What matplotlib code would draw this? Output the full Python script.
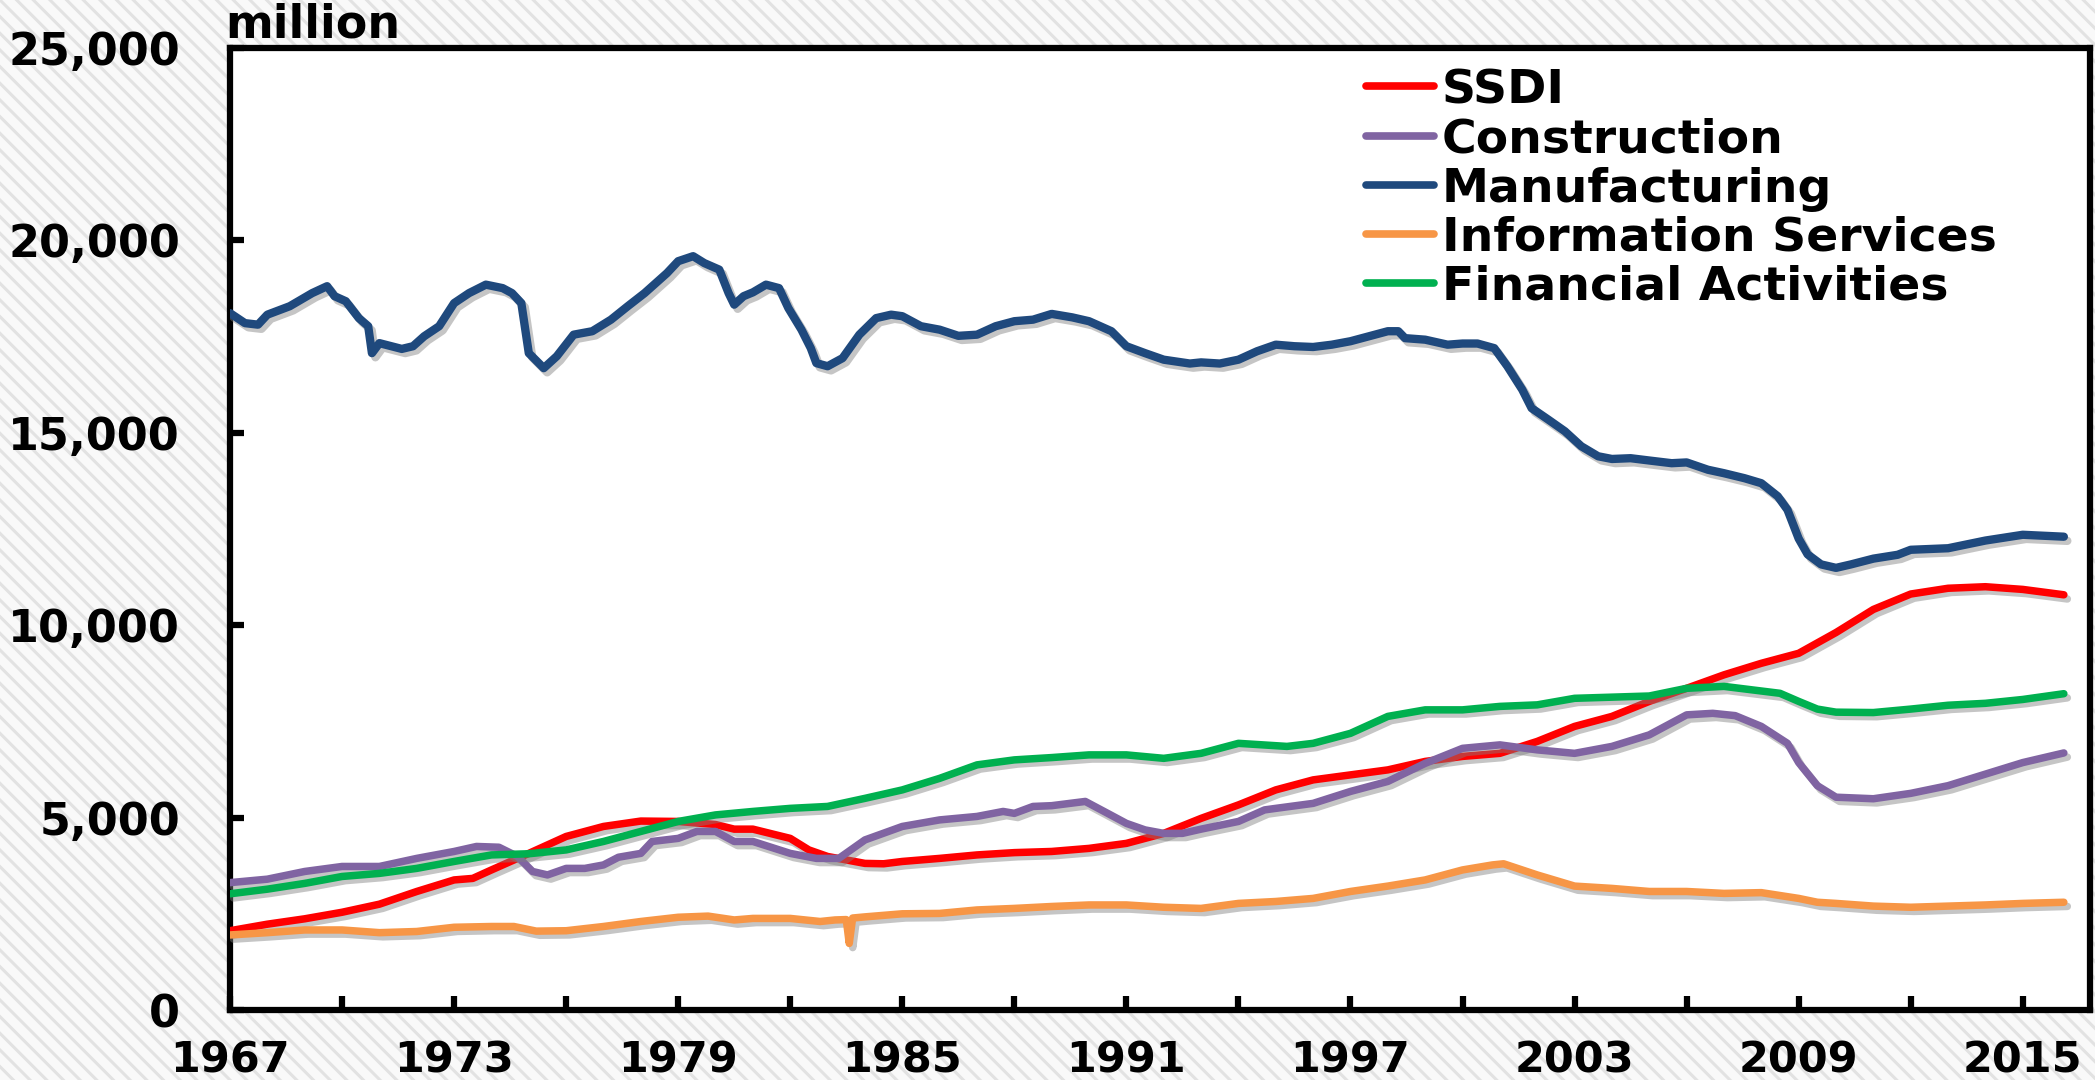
import matplotlib
matplotlib.use("Agg")
import matplotlib.pyplot as plt
import matplotlib.patheffects as pe
from matplotlib.patches import Rectangle
from matplotlib.lines import Line2D
from matplotlib.ticker import FuncFormatter, FixedLocator

plt.rcParams['font.family'] = ['DejaVu Sans']
plt.rcParams['font.weight'] = 'bold'
plt.rcParams['hatch.linewidth'] = 2.2

# ---------------- data ----------------
ssdi_years = [1967, 1968, 1969, 1970, 1971, 1972, 1973, 1973.5, 1974, 1975, 1976, 1977, 1978,
              1979, 1980, 1980.5, 1981, 1982, 1982.5, 1983, 1984, 1984.5, 1985, 1986, 1987, 1988,
              1989, 1990, 1991, 1992, 1993, 1994, 1995, 1996, 1997, 1998, 1999, 2000, 2001,
              2002, 2003, 2004, 2005, 2006, 2007, 2008, 2009, 2010, 2011, 2012, 2013, 2014,
              2015, 2016.1]
ssdi_vals = [2060, 2230, 2370, 2540, 2750, 3080, 3380, 3420, 3640, 4070, 4510, 4770, 4910,
             4900, 4820, 4700, 4700, 4460, 4160, 3990, 3810, 3800, 3860, 3940, 4030, 4090,
             4120, 4200, 4330, 4590, 4980, 5330, 5720, 5980, 6110, 6240, 6460, 6590, 6670,
             6980, 7370, 7630, 8020, 8360, 8710, 9010, 9270, 9810, 10410, 10810, 10960, 11000,
             10930, 10790]

constr_years = [1967, 1968, 1969, 1970, 1971, 1972, 1973, 1973.6, 1974.2, 1974.7, 1975.1,
                1975.5, 1976, 1976.5, 1977, 1977.4, 1978, 1978.3, 1979, 1979.5, 1980, 1980.5,
                1981, 1982, 1982.7, 1983.3, 1984, 1985, 1986, 1987, 1987.7, 1988, 1988.5, 1989,
                1989.9, 1990.5, 1991, 1991.5, 1992, 1992.5, 1993, 1994, 1994.7, 1995, 1996,
                1997, 1998, 1999, 2000, 2001, 2002, 2003, 2004, 2005, 2006, 2006.7, 2007.3,
                2008, 2008.7, 2009, 2009.5, 2010, 2011, 2012, 2013, 2014, 2015, 2016.1]
constr_vals = [3310, 3400, 3600, 3730, 3730, 3940, 4120, 4250, 4230, 3990, 3600,
               3510, 3680, 3680, 3770, 3970, 4070, 4380, 4460, 4640, 4640, 4380,
               4380, 4070, 3940, 3940, 4420, 4770, 4940, 5030, 5160, 5110, 5290, 5310,
               5420, 5110, 4850, 4680, 4590, 4590, 4700, 4900, 5200, 5240, 5370,
               5680, 5940, 6410, 6800, 6890, 6760, 6670, 6850, 7150, 7670, 7710, 7650,
               7370, 6930, 6430, 5830, 5530, 5490, 5630, 5830, 6130, 6430, 6680]

manuf_years = [1967.0, 1967.4, 1967.75, 1968.0, 1968.6, 1969.2, 1969.6, 1969.8, 1970.1, 1970.45,
               1970.7, 1970.8, 1971.0, 1971.6, 1971.9, 1972.2, 1972.6, 1973.0, 1973.4, 1973.85,
               1974.3, 1974.55, 1974.8, 1975.0, 1975.4, 1975.75, 1976.2, 1976.7, 1977.2,
               1977.65, 1978.1, 1978.7, 1979.0, 1979.4, 1979.7, 1980.1, 1980.35, 1980.5,
               1980.75, 1981.0, 1981.35, 1981.7, 1981.95, 1982.3, 1982.55, 1982.7, 1983.0,
               1983.4, 1983.85, 1984.3, 1984.7, 1985.0, 1985.5, 1986.0, 1986.5, 1987.0, 1987.5,
               1988.0, 1988.5, 1989.0, 1989.55, 1990.0, 1990.6, 1991.0, 1991.5, 1992.0, 1992.7,
               1993.0, 1993.5, 1994.0, 1994.5, 1995.0, 1995.5, 1996.0, 1996.5, 1997.0, 1997.5,
               1998.0, 1998.28, 1998.46, 1999.0, 1999.6, 2000.0, 2000.4, 2000.85, 2001.2,
               2001.6, 2001.85, 2002.3, 2002.74, 2003.18, 2003.63, 2004.0, 2004.5, 2005.0,
               2005.6, 2006.0, 2006.57, 2007.0, 2007.55, 2008.0, 2008.44, 2008.7, 2009.0,
               2009.24, 2009.6, 2010.0, 2010.4, 2011.0, 2011.65, 2012.0, 2013.0, 2014.0,
               2015.0, 2016.1]
manuf_vals = [18110, 17850, 17810, 18070, 18290, 18630, 18810, 18550, 18420, 17980,
              17770, 17070, 17330, 17180, 17250, 17510, 17770, 18370, 18630, 18850,
              18760, 18630, 18370, 17070, 16680, 16990, 17550, 17640, 17940,
              18290, 18630, 19150, 19460, 19590, 19410, 19240, 18630, 18330,
              18550, 18650, 18850, 18760, 18240, 17680, 17200, 16810, 16730,
              16940, 17550, 17980, 18070, 18030, 17770, 17680, 17520, 17550, 17770,
              17900, 17940, 18090, 18000, 17900, 17640, 17250, 17070, 16900, 16800,
              16830, 16800, 16900, 17120, 17290, 17250, 17230, 17290, 17380, 17510,
              17640, 17640, 17460, 17420, 17290, 17320, 17320, 17200, 16730,
              16120, 15640, 15340, 15040, 14650, 14390, 14320, 14340, 14280,
              14210, 14230, 14040, 13950, 13820, 13690, 13350, 13000, 12250,
              11840, 11580, 11490, 11580, 11730, 11830, 11960, 12000, 12200,
              12350, 12300]

info_years = [1967, 1968, 1969, 1970, 1971, 1972, 1973, 1974, 1974.6, 1975.2, 1976, 1977,
              1978, 1979, 1979.8, 1980.5, 1981, 1982, 1982.8, 1983.2, 1983.5, 1983.58,
              1983.67, 1984, 1985, 1986, 1987, 1988, 1989, 1990, 1991, 1992, 1993, 1994,
              1995, 1996, 1997, 1998, 1999, 2000, 2000.8, 2001.1, 2002, 2003, 2004, 2005,
              2006, 2007, 2008, 2009, 2009.5, 2010, 2011, 2012, 2013, 2014, 2015, 2016.1]
info_vals = [1950, 2010, 2080, 2080, 2010, 2040, 2150, 2170, 2170, 2050, 2060, 2170,
             2300, 2410, 2440, 2340, 2380, 2380, 2300, 2340, 2350, 1730,
             2390, 2420, 2500, 2510, 2600, 2640, 2690, 2730, 2730, 2670, 2640, 2770,
             2820, 2900, 3080, 3220, 3380, 3640, 3770, 3800, 3510, 3220, 3160, 3080,
             3080, 3030, 3050, 2900, 2800, 2770, 2700, 2670, 2700, 2730, 2770, 2800]

fin_years = [1967, 1968, 1969, 1970, 1971, 1972, 1973, 1974, 1975, 1976, 1977, 1978, 1979,
             1980, 1981, 1982, 1983, 1984, 1985, 1986, 1987, 1988, 1989, 1990, 1991, 1992,
             1993, 1994, 1995.3, 1996, 1997, 1998, 1999, 2000, 2001, 2002, 2003, 2004, 2005,
             2006, 2007, 2008, 2008.5, 2009, 2009.5, 2010, 2011, 2012, 2013, 2014, 2015,
             2016.1]
fin_vals = [3020, 3140, 3290, 3470, 3550, 3680, 3860, 4030, 4060, 4160, 4380, 4640, 4900,
            5070, 5160, 5240, 5290, 5500, 5720, 6020, 6370, 6500, 6560, 6630, 6630, 6540,
            6670, 6930, 6850, 6930, 7190, 7630, 7800, 7800, 7890, 7930, 8100, 8130, 8160,
            8360, 8410, 8290, 8230, 8020, 7820, 7740, 7730, 7820, 7920, 7970, 8070,
            8220]

series_labels = ["SSDI", "Construction", "Manufacturing", "Information Services",
                 "Financial Activities"]
series_colors = ["#ff0000", "#8064a2", "#1f497d", "#f79646", "#00b050"]

y_ticks = [0, 5000, 10000, 15000, 20000, 25000]
x_major = list(range(1967, 2016, 6))
x_minor = list(range(1970, 2016, 6))

# ---------------- figure ----------------
W, H = 2095, 1080
fig = plt.figure(figsize=(W / 100, H / 100), dpi=100)
fig.patch.set_facecolor("#f9f9f9")
bg = Rectangle((0, 0), 1, 1, transform=fig.transFigure, facecolor="#f9f9f9",
               edgecolor="#e2e2e2", hatch="\\\\", linewidth=0, zorder=-10)
fig.add_artist(bg)

ax = fig.add_axes([230 / W, 70 / H, (2090 - 230) / W, (1010 - 48) / H])
ax.set_facecolor("white")

shadow = [pe.SimpleLineShadow(offset=(2.5, -3), shadow_color="#7f7f7f", alpha=0.45),
          pe.Normal()]

data = [(ssdi_years, ssdi_vals), (constr_years, constr_vals), (manuf_years, manuf_vals),
        (info_years, info_vals), (fin_years, fin_vals)]
order = [2, 0, 1, 4, 3]
for i in order:
    xs, ys = data[i]
    lw = 6.0 if i == 2 else 5.4
    ax.plot(xs, ys, color=series_colors[i], lw=lw, solid_capstyle="round",
            solid_joinstyle="round", path_effects=shadow, zorder=3 + (i == 2))

ax.set_xlim(1967, 2016.8)
ax.set_ylim(0, 25000)

ax.xaxis.set_major_locator(FixedLocator(x_major))
ax.xaxis.set_minor_locator(FixedLocator(x_minor))
ax.yaxis.set_major_locator(FixedLocator(y_ticks))
ax.yaxis.set_major_formatter(FuncFormatter(lambda v, p: f"{int(v):,}"))

ax.tick_params(which="both", direction="in", length=10, width=4.5, color="black")
ax.tick_params(axis="x", which="major", labelsize=31, pad=21)
ax.tick_params(axis="y", which="major", labelsize=32, pad=36)
for lab in ax.get_xticklabels() + ax.get_yticklabels():
    lab.set_fontweight("bold")

for s in ax.spines.values():
    s.set_linewidth(4.5)
    s.set_color("black")

fig.text(225 / W, 1 - 37 / H, "million", fontsize=33, fontweight="bold",
         ha="left", va="baseline")

handles = [Line2D([0], [0], color=c, lw=5.5, solid_capstyle="round") for c in series_colors]
leg = fig.legend(handles, series_labels, loc="upper left",
                 bbox_to_anchor=(1366 / W, 1 - 68 / H), frameon=False,
                 prop={"size": 34, "weight": "bold"}, handlelength=1.45,
                 handletextpad=0.16, labelspacing=0.09, borderpad=0, borderaxespad=0)

fig.savefig("out.png", dpi=100, facecolor=fig.get_facecolor())
